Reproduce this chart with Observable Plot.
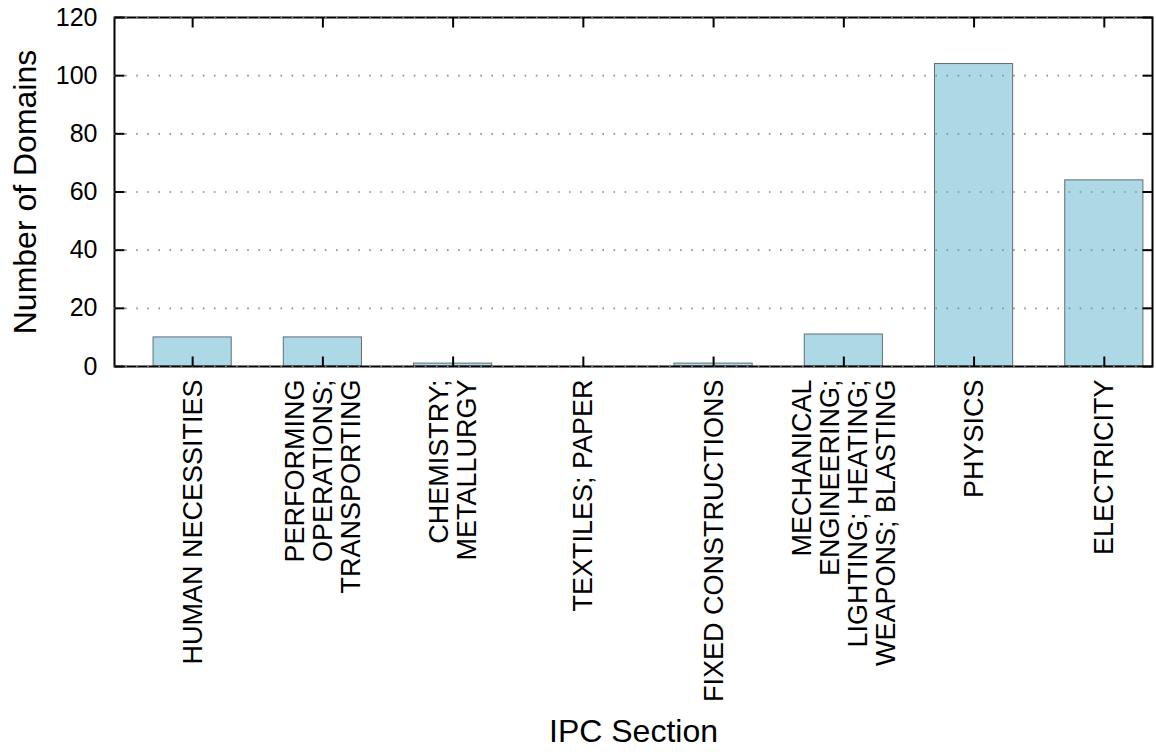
<!DOCTYPE html>
<html>
<head>
<meta charset="utf-8">
<script src="https://cdn.jsdelivr.net/npm/d3@7"></script>
<script src="https://cdn.jsdelivr.net/npm/@observablehq/plot@0.6"></script>
<style>
  html, body { margin: 0; padding: 0; background: #fff; }
  #chart svg { display: block; background: #fff; }
</style>
</head>
<body>
<div id="chart"></div>
<script>
const categories = [
  "HUMAN NECESSITIES",
  "PERFORMING\nOPERATIONS;\nTRANSPORTING",
  "CHEMISTRY;\nMETALLURGY",
  "TEXTILES; PAPER",
  "FIXED CONSTRUCTIONS",
  "MECHANICAL\nENGINEERING;\nLIGHTING; HEATING;\nWEAPONS; BLASTING",
  "PHYSICS",
  "ELECTRICITY"
];
const counts = [10, 10, 1, 0, 1, 11, 104, 64];
const yTicks = [0, 20, 40, 60, 80, 100, 120];
const xTickPositions = [0, 1, 2, 3, 4, 5, 6, 7];
const xLabel = "IPC Section";
const yLabel = "Number of Domains";

const data = categories.map((c, i) => ({i, name: c, value: counts[i]}));
const halfWidth = 0.3;
const font = "'Liberation Sans', Arial, Helvetica, sans-serif";

const W = 1156, H = 752, mL = 114, mR = 4, mT = 17, mB = 386;
const xDomain = [-0.6, 7.37], yDomain = [0, 120];
const frameW = W - mL - mR, frameH = H - mT - mB, tickPx = 10;
// tick length converted from pixels to data units
const yTickLen = tickPx * (yDomain[1] - yDomain[0]) / frameH;
const xTickLen = tickPx * (xDomain[1] - xDomain[0]) / frameW;

const chart = Plot.plot({
  width: W,
  height: H,
  marginLeft: mL,
  marginRight: mR,
  marginTop: mT,
  marginBottom: mB,
  style: {fontFamily: font},
  x: {domain: xDomain, axis: null},
  y: {domain: yDomain, axis: null},
  marks: [
    Plot.rectY(data, {
      x1: d => d.i - halfWidth,
      x2: d => d.i + halfWidth,
      y1: 0,
      y2: "value",
      fill: "#add8e6",
      stroke: "#5f6f73",
      strokeWidth: 1
    }),
    Plot.frame({stroke: "black", strokeWidth: 2}),
    Plot.gridY({ticks: yTicks, stroke: "#8c8c8c", strokeOpacity: 1, strokeWidth: 1.6, strokeDasharray: "1.6,9.5"}),
    // inward ticks as short links
    Plot.link(yTicks, {x1: xDomain[0], x2: xDomain[0] + xTickLen, y1: d => d, y2: d => d, stroke: "black", strokeWidth: 2}),
    Plot.link(yTicks, {x1: xDomain[1], x2: xDomain[1] - xTickLen, y1: d => d, y2: d => d, stroke: "black", strokeWidth: 2}),
    Plot.link(xTickPositions, {x1: d => d, x2: d => d, y1: yDomain[0], y2: yDomain[0] + yTickLen, stroke: "black", strokeWidth: 2}),
    Plot.link(xTickPositions, {x1: d => d, x2: d => d, y1: yDomain[1], y2: yDomain[1] - yTickLen, stroke: "black", strokeWidth: 2}),
    // y tick labels
    Plot.axisY({anchor: "left", ticks: yTicks, tickSize: 0, tickPadding: 17, fontSize: 25, label: null, fill: "black"}),
    // category labels
    Plot.text(data, {
      x: "i",
      text: "name",
      frameAnchor: "bottom",
      dy: 13,
      rotate: -90,
      textAnchor: "end",
      lineAnchor: "middle",
      lineHeight: 1.04,
      fontSize: 27,
      fill: "black"
    }),
    // axis titles
    Plot.text([xLabel], {frameAnchor: "bottom", dy: 365, lineAnchor: "middle", textAnchor: "middle", fontSize: 32, fill: "black"}),
    Plot.text([yLabel], {frameAnchor: "left", dx: -89, rotate: -90, lineAnchor: "middle", textAnchor: "middle", fontSize: 32, fill: "black"})
  ]
});
document.getElementById("chart").appendChild(chart);
</script>
</body>
</html>
